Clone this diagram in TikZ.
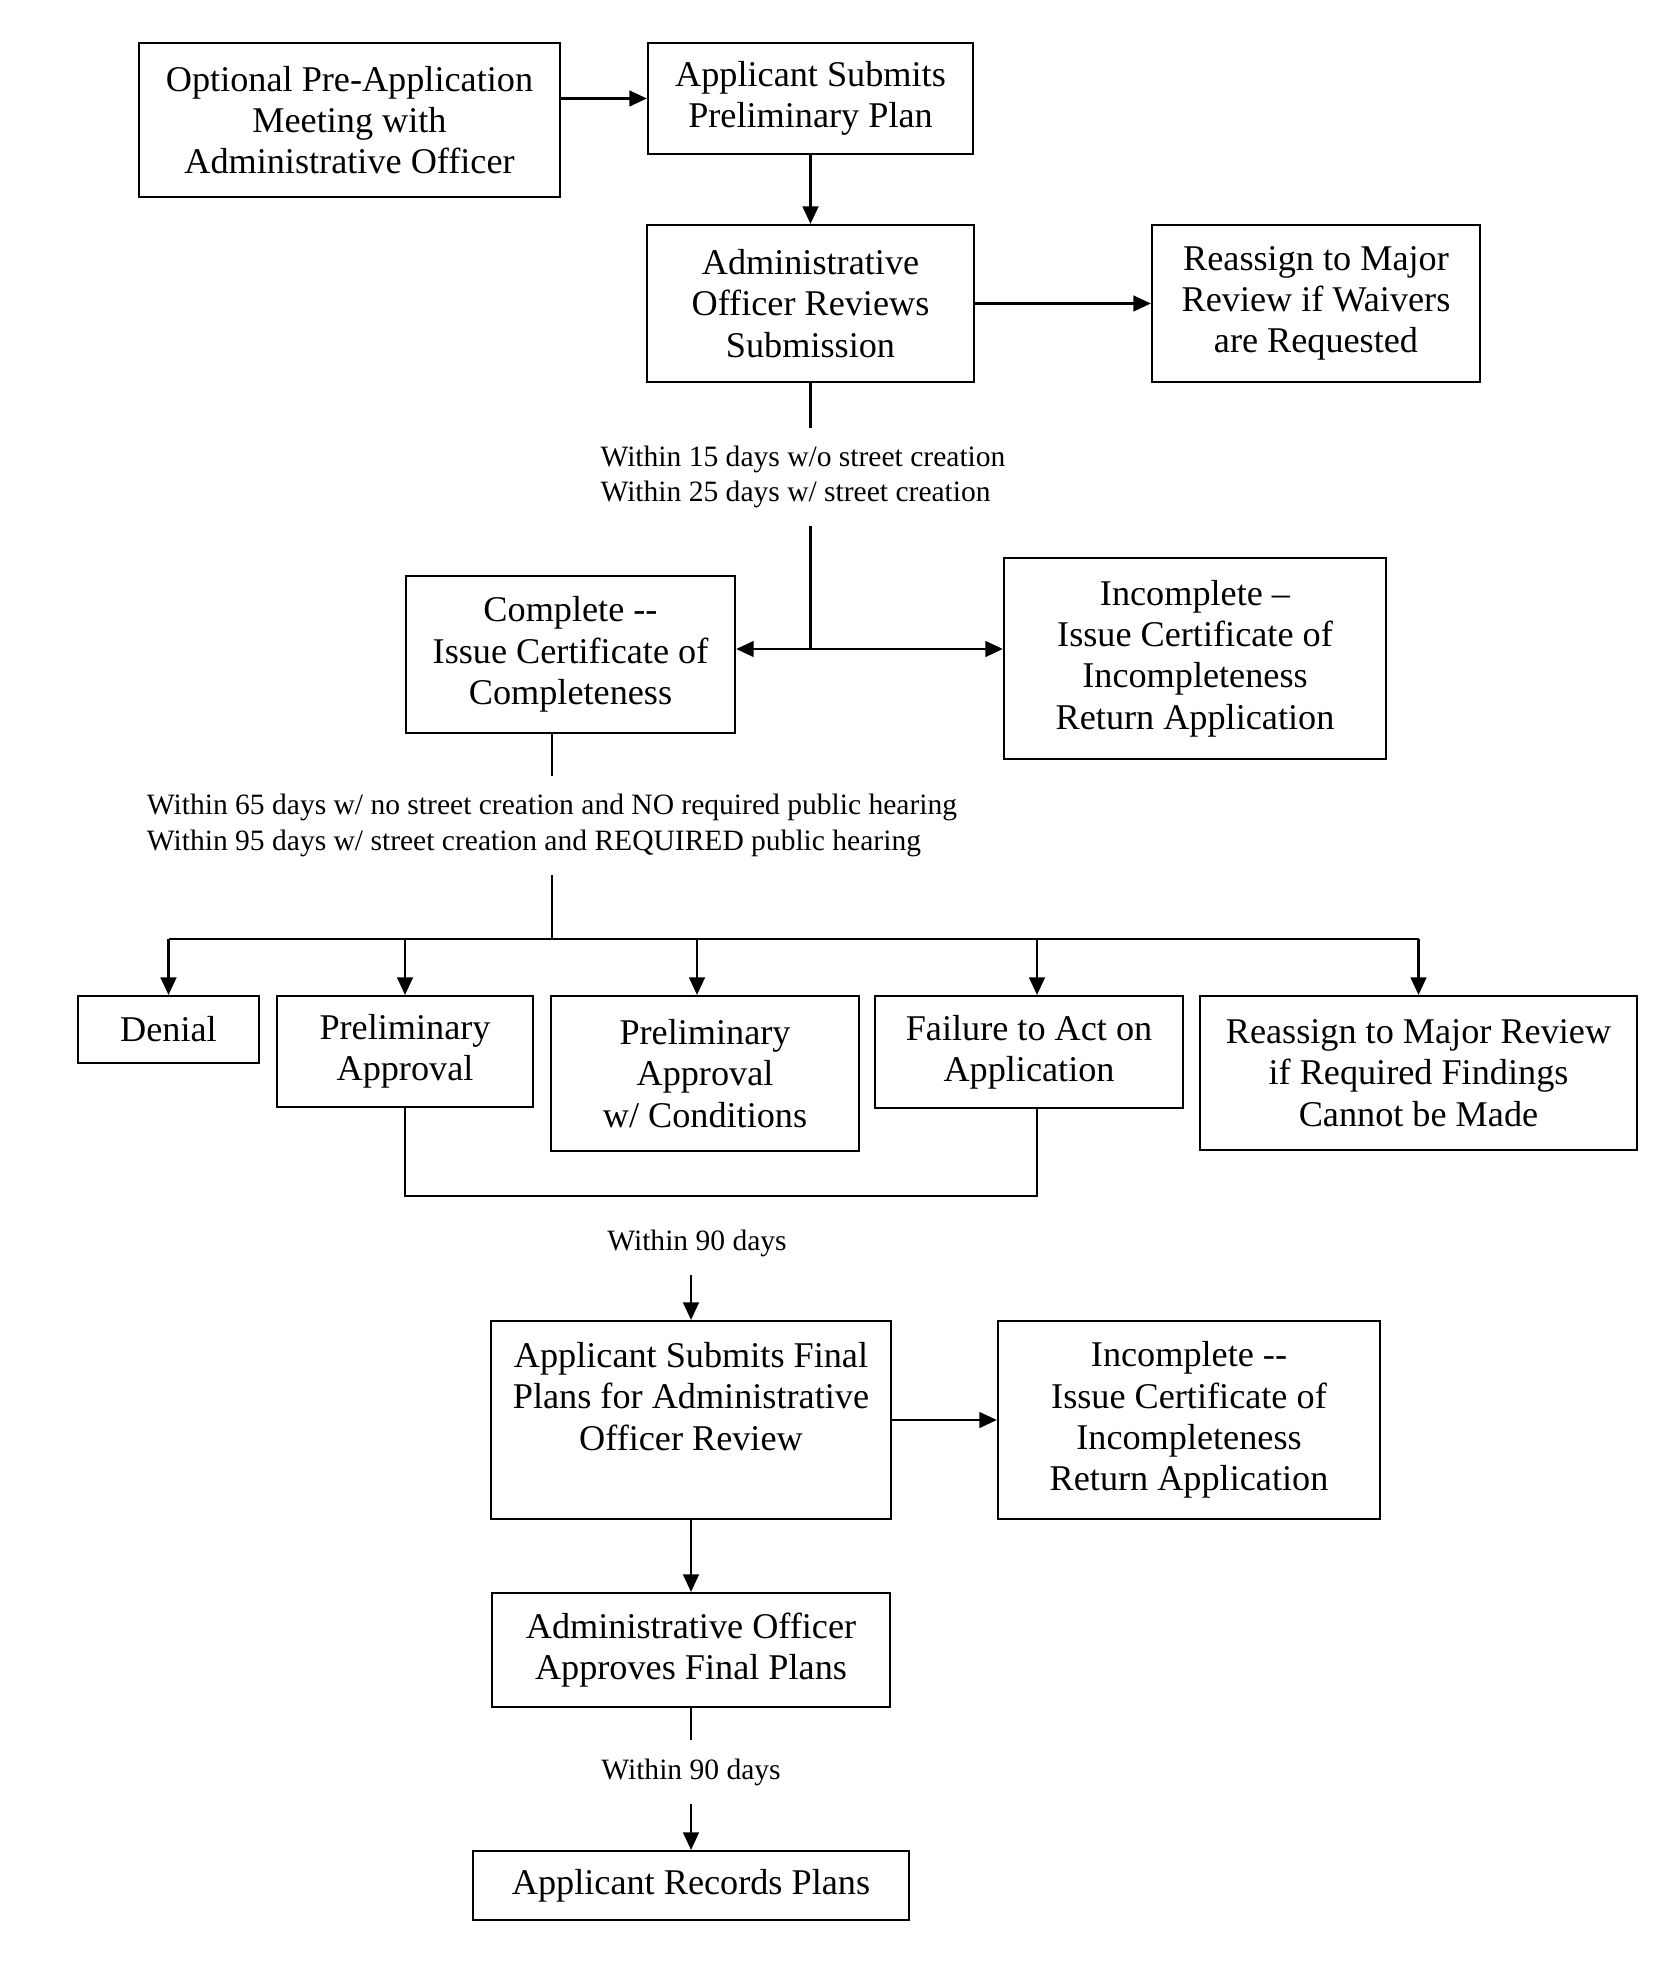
\documentclass[tikz,border=0pt]{standalone}
\usepackage{fontspec}
\setmainfont{Liberation Serif}
\usetikzlibrary{arrows.meta,positioning,calc}

\begin{document}
\begin{tikzpicture}[x=0.01cm, y=-0.01cm,
    stage/.style={draw, line width=0.6pt, align=center, inner sep=2pt, font=\fontsize{10.3}{11.75}\selectfont},
    note/.style={align=left, inner xsep=2pt, inner ysep=5pt, font=\fontsize{8.4}{10}\selectfont},
    arrowstyle/.style={-{Triangle[length=5pt,width=4.5pt]}, line width=0.6pt},
    link/.style={line width=0.6pt}
  ]
  \useasboundingbox (0,0) rectangle (1678,1964);

  \node[stage, minimum width=4.21cm, minimum height=1.54cm] (premeet) at (349.5,120) {Optional Pre-Application\\Meeting with\\Administrative Officer};
  \node[stage, minimum width=3.25cm, minimum height=1.11cm] (prelimplan) at (810.5,98.5) {Applicant Submits\\Preliminary Plan};
  \node[stage, minimum width=3.26cm, minimum height=1.57cm] (review) at (810.5,303.5) {Administrative\\Officer Reviews\\Submission};
  \node[stage, minimum width=3.28cm, minimum height=1.57cm] (waivers) at (1316,303.5) {Reassign to Major\\Review if Waivers\\are Requested};
  \node[note] (within15) at (803,477) {Within 15 days w/o street creation\\Within 25 days w/ street creation};
  \coordinate (split) at (810.5,649);
  \node[stage, minimum width=3.29cm, minimum height=1.57cm] (complete) at (570.5,654.5) {Complete -{}-\\Issue Certificate of\\Completeness};
  \node[stage, minimum width=3.82cm, minimum height=2.01cm] (incomplete) at (1195,658.5) {Incomplete --\\Issue Certificate of\\Incompleteness\\Return Application};
  \node[note] (within65) at (552,825.5) {Within 65 days w/ no street creation and NO required public hearing\\Within 95 days w/ street creation and REQUIRED public hearing};
  \coordinate (bus) at (552,939);
  \node[stage, minimum width=1.81cm, minimum height=0.67cm] (denial) at (168.5,1029.5) {Denial};
  \node[stage, minimum width=2.56cm, minimum height=1.11cm] (prelim) at (405,1051.5) {Preliminary\\Approval};
  \node[stage, minimum width=3.08cm, minimum height=1.55cm] (prelimcond) at (705,1073.5) {Preliminary\\Approval\\w/ Conditions};
  \node[stage, minimum width=3.08cm, minimum height=1.12cm] (failure) at (1029,1052) {Failure to Act on\\Application};
  \node[stage, minimum width=4.37cm, minimum height=1.54cm] (reassign) at (1418.5,1073) {Reassign to Major Review\\if Required Findings\\Cannot be Made};
  \coordinate (bracket) at (720,1196);
  \node[note] (within90a) at (697,1243) {Within 90 days};
  \node[stage, minimum width=3.99cm, minimum height=1.98cm] (finalplans) at (691,1420) {Applicant Submits Final\\Plans for Administrative\\Officer Review\\[1.8pt]\mbox{}};
  \node[stage, minimum width=3.82cm, minimum height=1.98cm] (incomplete2) at (1189,1420) {Incomplete -{}-\\Issue Certificate of\\Incompleteness\\Return Application};
  \node[stage, minimum width=3.98cm, minimum height=1.14cm] (approve) at (691,1650) {Administrative Officer\\Approves Final Plans};
  \node[note] (within90b) at (691,1772) {Within 90 days};
  \node[stage, minimum width=4.35cm, minimum height=0.69cm] (records) at (691,1885.5) {Applicant Records Plans};

  \draw[arrowstyle] (premeet.east |- prelimplan) -- (prelimplan.west);
  \draw[arrowstyle] (prelimplan) -- (review);
  \draw[arrowstyle] (review) -- (waivers);
  \draw[link] (review.south) -- (review.south |- within15.north);
  \draw[link] (review.south |- within15.south) -- (split);
  \draw[arrowstyle] (split) -- (split -| complete.east);
  \draw[arrowstyle] (split) -- (split -| incomplete.west);
  \draw[link] (complete.south -| within65) -- (within65.north);
  \draw[link] (within65.south) -- (bus);
  \draw[link] (bus -| denial) -- (bus -| reassign);
  \foreach \n/\dx in {denial/0,prelim/0,prelimcond/-8,failure/8,reassign/0}
    \draw[arrowstyle] ([xshift=\dx*0.01cm]bus -| \n) -- ([xshift=\dx*0.01cm]\n.north);
  \draw[link] (prelim.south) |- (bracket) -| ([xshift=0.08cm]failure.south);
  \draw[arrowstyle] (finalplans.north |- within90a.south) -- (finalplans.north);
  \draw[arrowstyle] (finalplans) -- (incomplete2);
  \draw[arrowstyle] (finalplans) -- (approve);
  \draw[link] (approve) -- (within90b);
  \draw[arrowstyle] (within90b) -- (records);
\end{tikzpicture}
\end{document}
